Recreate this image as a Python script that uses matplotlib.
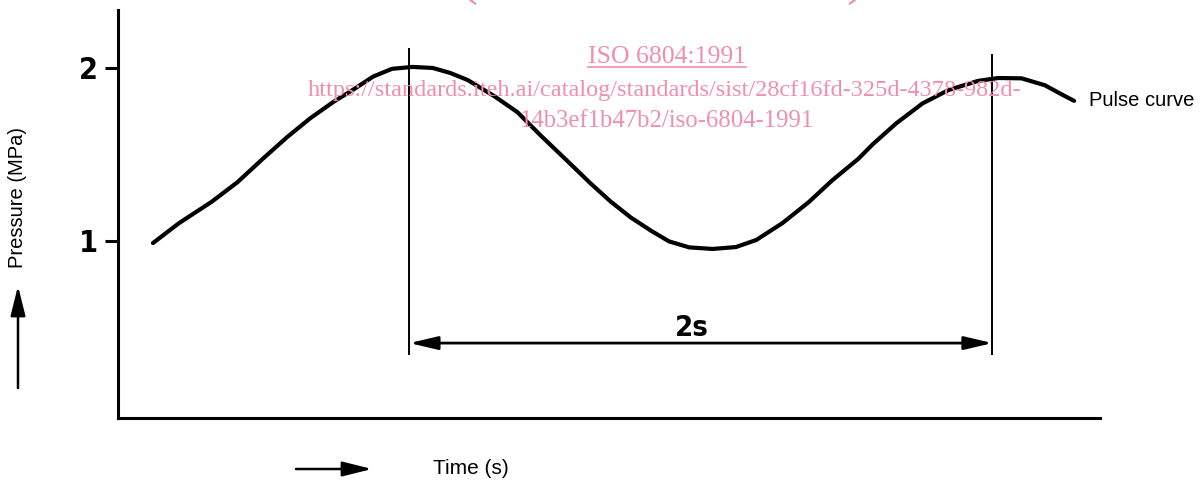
import matplotlib
matplotlib.use("Agg")
import matplotlib.pyplot as plt
from matplotlib.lines import Line2D
from matplotlib.patches import FancyArrowPatch

# Pulse curve (time in s, pressure in MPa)
time_s = [0.12, 0.21, 0.32, 0.41, 0.50, 0.58, 0.66, 0.74, 0.81, 0.875,
          0.94, 1.01, 1.08, 1.14, 1.20, 1.29, 1.37, 1.45, 1.54, 1.62,
          1.69, 1.76, 1.83, 1.89, 1.96, 2.04, 2.12, 2.19, 2.28, 2.37,
          2.45, 2.54, 2.59, 2.67, 2.76, 2.85, 2.95, 3.02, 3.10, 3.18,
          3.24, 3.28]
pressure = [0.988, 1.104, 1.225, 1.34, 1.48, 1.60, 1.71, 1.805, 1.878, 1.95,
            1.995, 2.006, 2.0, 1.971, 1.93, 1.838, 1.745, 1.61, 1.465, 1.335,
            1.228, 1.135, 1.058, 0.998, 0.963, 0.954, 0.965, 1.006, 1.104, 1.225,
            1.35, 1.475, 1.56, 1.68, 1.795, 1.873, 1.925, 1.942, 1.94, 1.90,
            1.845, 1.81]

# period markers
mark_t = [1.0, 3.0]
mark_top = [2.116, 2.08]
mark_bottom = 0.341
period_label = "2s"

y_ticks = [1, 2]
y_ticklabels = ["1", "2"]

pink = "#F08FAD"
sans = ["Liberation Sans", "DejaVu Sans"]
serif = ["Liberation Serif", "DejaVu Serif"]

W, H = 1203, 483
fig = plt.figure(figsize=(W / 100, H / 100), dpi=100)
ax = fig.add_axes([118 / W, 65 / H, 982 / W, 408 / H])

ax.plot(time_s, pressure, color="k", lw=3, solid_capstyle="round",
        solid_joinstyle="round")

ax.set_xlim(0, 3.369)
ax.set_ylim(-0.023, 2.335)
for s in ["top", "right"]:
    ax.spines[s].set_visible(False)
for s in ["left", "bottom"]:
    ax.spines[s].set_linewidth(2.2)

ax.set_xticks([])
ax.set_yticks(y_ticks)
ax.set_yticklabels(y_ticklabels)
ax.tick_params(axis="y", direction="out", length=9.5, width=2.2, pad=5)
for lbl in ax.get_yticklabels():
    lbl.set_fontfamily("DejaVu Sans")
    lbl.set_fontstretch("condensed")
    lbl.set_fontweight("bold")
    lbl.set_fontsize(22)

# period markers and 2 s dimension arrow
ax.vlines(mark_t, mark_bottom, mark_top, color="k", lw=1.4)
ax.annotate("", xy=(mark_t[0], 0.41), xytext=(mark_t[1], 0.41),
            arrowprops=dict(arrowstyle="<|-|>,head_length=1.7,head_width=0.4",
                            mutation_scale=10, lw=2, color="k",
                            shrinkA=0, shrinkB=0))
ax.text(1.97, 0.50, period_label, ha="center", va="center", fontsize=21,
        fontweight="bold", family="DejaVu Sans", fontstretch="condensed")

ax.text(3.33, 1.81, "Pulse curve", ha="left", va="center", fontsize=14.5,
        family=sans)

# axis labels with arrows
fig.text(18 / W, 1 - 197 / H, "Pressure (MPa)", rotation=90, ha="center",
         va="center", fontsize=14.5, family=sans)
fig.add_artist(FancyArrowPatch(
    (18 / W, 1 - 388 / H), (18 / W, 1 - 286 / H), transform=fig.transFigure,
    arrowstyle="-|>,head_length=1.8,head_width=0.45", mutation_scale=10,
    lw=1.8, color="k", shrinkA=0, shrinkB=0))
fig.text(433 / W, 1 - 468 / H, "Time (s)", ha="left", va="center",
         fontsize=15, family=sans)
fig.add_artist(FancyArrowPatch(
    (296 / W, 1 - 469 / H), (372 / W, 1 - 469 / H), transform=fig.transFigure,
    arrowstyle="-|>,head_length=1.8,head_width=0.45", mutation_scale=10,
    lw=1.8, color="k", shrinkA=0, shrinkB=0))

# watermark
fig.text(663 / W, 1 + 7 / H, "(standards.iteh.ai)", ha="center",
         va="baseline", fontsize=41, color=pink, family=serif)
iso = fig.text(667 / W, 1 - 63 / H, "ISO 6804:1991", ha="center",
               va="baseline", fontsize=18.5, color=pink, family=serif)
fig.text(665 / W, 1 - 96 / H,
         "https://standards.iteh.ai/catalog/standards/sist/28cf16fd-325d-4378-982d-",
         ha="center", va="baseline", fontsize=17.5, color=pink, family=serif)
fig.text(667 / W, 1 - 127 / H, "14b3ef1b47b2/iso-6804-1991", ha="center",
         va="baseline", fontsize=17.8, color=pink, family=serif)

fig.canvas.draw()
bb = iso.get_window_extent().transformed(fig.transFigure.inverted())
fig.add_artist(Line2D([bb.x0, bb.x1], [1 - 67 / H, 1 - 67 / H],
                      transform=fig.transFigure, color=pink, lw=1.2))

fig.savefig("out.png", dpi=100)
